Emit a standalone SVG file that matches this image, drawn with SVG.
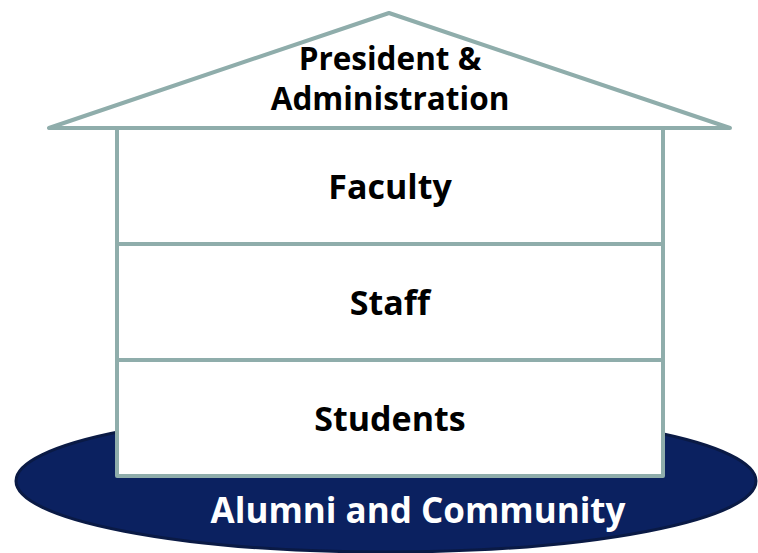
<svg xmlns="http://www.w3.org/2000/svg" width="758" height="553" viewBox="0 0 758 553">
<style>
.ln{fill:#fff;stroke:#8fadab;stroke-width:4;stroke-linejoin:round;stroke-linecap:round}
.t{font-family:"Open Sans","Noto Sans","DejaVu Sans",sans-serif;font-weight:bold;text-anchor:middle;fill:#000}
</style>
<rect width="758" height="553" fill="#fff"/>
<g id="alumni">
<ellipse cx="386" cy="481" rx="370" ry="71" fill="#0b2160" stroke="#0a1a45" stroke-width="3"/>
<text class="t" x="418" y="523" font-size="35" style="fill:#fff">Alumni and Community</text>
</g>
<g id="president">
<polygon class="ln" points="389,13 49,128 730,128"/>
<text class="t" x="390" y="70" font-size="31.5">President &amp;</text>
<text class="t" x="390" y="110" font-size="31.5">Administration</text>
</g>
<g id="faculty">
<rect class="ln" x="117" y="128" width="546" height="116"/>
<text class="t" x="390" y="199" font-size="34">Faculty</text>
</g>
<g id="staff">
<rect class="ln" x="117" y="244" width="546" height="116"/>
<text class="t" x="390" y="315" font-size="34">Staff</text>
</g>
<g id="students">
<rect class="ln" x="117" y="360" width="546" height="116"/>
<text class="t" x="390" y="431" font-size="34">Students</text>
</g>
<g id="connectors"/>
</svg>
